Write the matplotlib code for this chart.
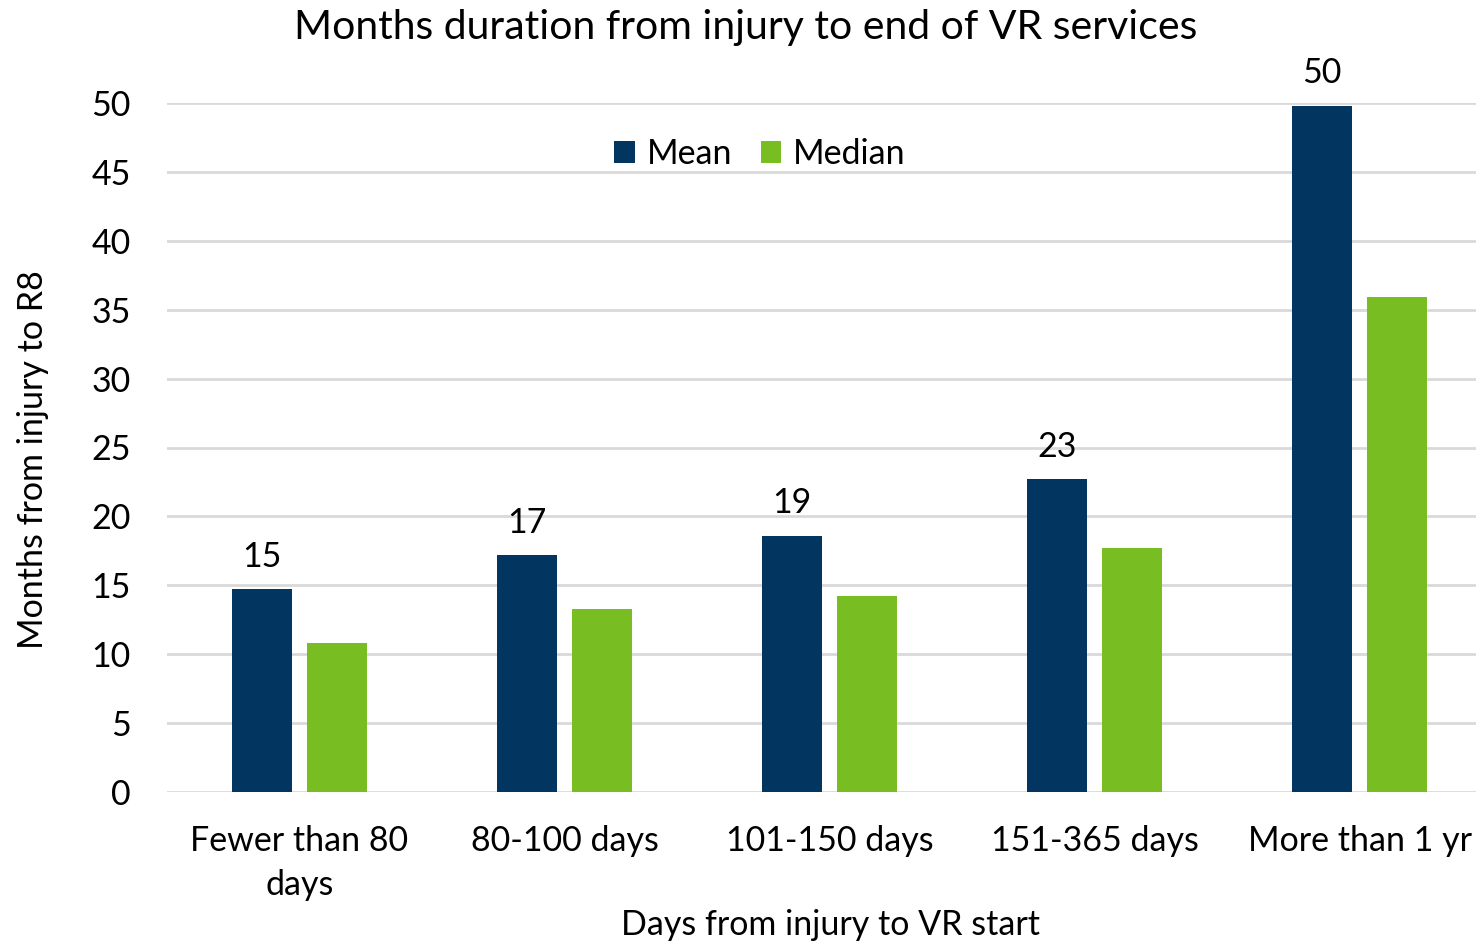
import matplotlib
matplotlib.use("Agg")
import matplotlib.pyplot as plt
import numpy as np

categories = ["Fewer than 80\ndays", "80-100 days", "101-150 days", "151-365 days", "More than 1 yr"]
mean_vals = [14.7, 17.2, 18.6, 22.7, 49.8]
median_vals = [10.8, 13.3, 14.2, 17.7, 35.9]
mean_labels = ["15", "17", "19", "23", "50"]
yticks = [0, 5, 10, 15, 20, 25, 30, 35, 40, 45, 50]

BLUE = "#023660"
GREEN = "#78BD21"
GRID = "#D9D9D9"
FONT = "Lato"
FS = 24.5

plt.rcParams['font.family'] = [FONT, 'DejaVu Sans']

fig = plt.figure(figsize=(14.76, 9.43), dpi=100)
ax = fig.add_axes([167/1476, 1-792/943, 1325/1476, (792-103)/943])

x = np.arange(len(categories))
bw = 0.226
off = 0.143
ax.bar(x - off, mean_vals, bw, color=BLUE, label="Mean", zorder=3)
ax.bar(x + off, median_vals, bw, color=GREEN, label="Median", zorder=3)

for xi, v, lab in zip(x, mean_vals, mean_labels):
    ax.text(xi - off, v + 2.35, lab, ha="center", va="center", fontsize=FS, color="black", clip_on=False)

ax.set_xlim(-0.5, len(categories) - 0.5)
ax.set_ylim(0, 50)
ax.set_yticks(yticks)
ax.set_yticklabels([str(t) for t in yticks], fontsize=FS)
ax.set_xticks(x)
ax.set_xticklabels(categories, fontsize=FS, linespacing=1.45)
ax.tick_params(axis="both", length=0)
ax.tick_params(axis="y", pad=26)
ax.tick_params(axis="x", pad=24)
for s in ax.spines.values():
    s.set_visible(False)
ax.yaxis.grid(True, color=GRID, linewidth=2, zorder=0)
ax.set_axisbelow(True)

ax.set_ylabel("Months from injury to R8", fontsize=FS, va="center")
ax.yaxis.set_label_coords((33-167)/1325, (792-460)/689)
ax.set_xlabel("Days from injury to VR start", fontsize=FS, va="center")
ax.xaxis.set_label_coords((830-167)/1325, (792-925)/689)
fig.text(746/1476, 1-28/943, "Months duration from injury to end of VR services", ha="center", va="center", fontsize=29.5)

leg = ax.legend(loc="center", bbox_to_anchor=((760-167)/1325, (792-154)/689), ncol=2, frameon=False,
                fontsize=FS, handlelength=0.6, handleheight=0.6, handletextpad=0.35, columnspacing=0.85)

fig.savefig("out.png", dpi=100)
